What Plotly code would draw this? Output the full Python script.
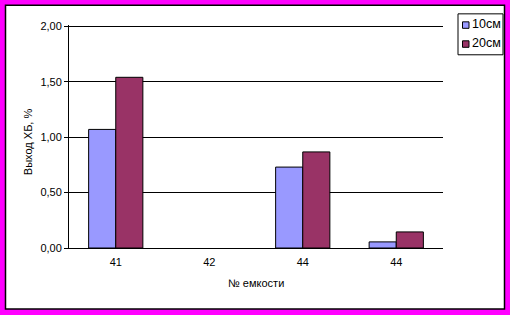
import plotly.graph_objects as go

categories = ["41", "42", "44", "44"]
series_names = ["10см", "20см"]
values_10 = [1.07, None, 0.73, 0.055]
values_20 = [1.54, None, 0.867, 0.145]
colors = ["#9999FF", "#993366"]
y_ticks = [0, 0.5, 1.0, 1.5, 2.0]

W, H = 510, 315
Y_TOP = 2.012
UNIT = 111.0  # pixels per 1.0 on y axis
L, R, B = 69, 443, 248.5  # plot area pixel box
T = B - UNIT * Y_TOP
pw, ph = R - L, B - T

def px(x):
    return (x - L) / pw

def py(y):
    return (B - y) / ph

xpos = list(range(len(categories)))

fig = go.Figure()
for name, vals, col in zip(series_names, [values_10, values_20], colors):
    fig.add_trace(go.Bar(
        x=xpos, y=vals, name=name,
        marker=dict(color=col, line=dict(color="black", width=1)),
        xaxis="x", yaxis="y", showlegend=False,
    ))

font = dict(family="Liberation Sans, Arial, sans-serif", size=11, color="black")

shapes = [dict(
    type="rect", xref="paper", yref="paper", layer="below",
    x0=px(5.5), x1=px(504.5), y0=py(309.5), y1=py(5.5),
    fillcolor="white", line=dict(color="black", width=1.5),
)]
# legend box
shapes.append(dict(
    type="rect", xref="paper", yref="paper", layer="above",
    x0=px(458), x1=px(503), y0=py(55), y1=py(14),
    fillcolor="white", line=dict(color="black", width=1),
))
annotations = [
    dict(text="№ емкости", xref="paper", yref="paper",
         x=px(256), y=py(284), xanchor="center", yanchor="middle",
         showarrow=False, font=font),
    dict(text="Выход ХБ, %", xref="paper", yref="paper",
         x=px(27.5), y=py(142), xanchor="center", yanchor="middle",
         textangle=-90, showarrow=False, font=font),
]
for i, (name, col) in enumerate(zip(series_names, colors)):
    yc = 25 + i * 19
    shapes.append(dict(
        type="rect", xref="paper", yref="paper", layer="above",
        x0=px(462.5), x1=px(469), y0=py(yc + 3.5), y1=py(yc - 3),
        fillcolor=col, line=dict(color="black", width=1),
    ))
    annotations.append(dict(
        text=name, xref="paper", yref="paper",
        x=px(469.5), y=py(yc - 0.5), xanchor="left", yanchor="middle",
        showarrow=False,
        font=dict(family="Liberation Sans, Arial, sans-serif", size=12.5, color="black"),
    ))

fig.update_layout(
    width=W, height=H,
    margin=dict(l=L, r=W - R, t=T, b=H - B, pad=0),
    paper_bgcolor="#FF00FF",
    plot_bgcolor="rgba(0,0,0,0)",
    separators=", ",
    font=font,
    barmode="group",
    bargap=0.42,
    bargroupgap=0,
    showlegend=False,
    xaxis=dict(
        range=[-0.5, len(categories) - 0.5],
        tickmode="array", tickvals=xpos, ticktext=categories,
        ticks="outside", ticklen=4, tickcolor="rgba(0,0,0,0)",
        showgrid=False, zeroline=False,
        showline=True, linecolor="black", linewidth=1,
        tickfont=font, fixedrange=True,
    ),
    xaxis2=dict(
        overlaying="x", anchor="y", side="bottom",
        range=[-0.5, len(categories) - 0.5],
        tickmode="array",
        tickvals=[i - 0.5 for i in range(len(categories) + 1)],
        showticklabels=False,
        ticks="outside", ticklen=4, tickcolor="black", tickwidth=1,
        showgrid=False, zeroline=False, showline=False,
    ),
    yaxis=dict(
        range=[0, Y_TOP], tickmode="array", tickvals=y_ticks,
        tickformat=".2f",
        ticks="outside", ticklen=4, tickcolor="black", tickwidth=1,
        showgrid=True, gridcolor="black", gridwidth=1,
        zeroline=False,
        showline=True, linecolor="black", linewidth=1,
        tickfont=font, fixedrange=True,
    ),
    shapes=shapes,
    annotations=annotations,
)

fig.write_html("out.html")
